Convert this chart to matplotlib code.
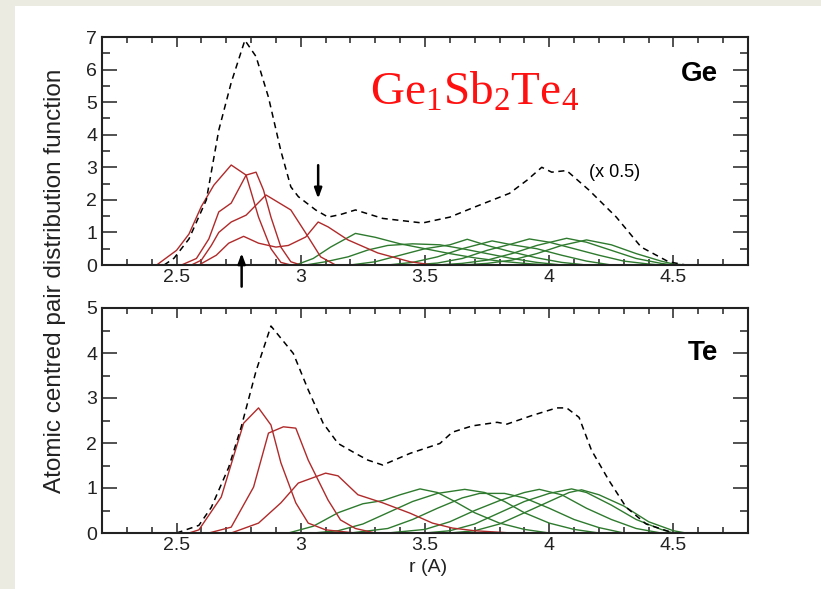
import matplotlib
matplotlib.use("Agg")
import matplotlib.pyplot as plt
from matplotlib.patches import Rectangle
from matplotlib.ticker import MultipleLocator, FixedLocator

plt.rcParams['font.family'] = ['Liberation Sans', 'DejaVu Sans']
plt.rcParams['mathtext.fontset'] = 'custom'
plt.rcParams['mathtext.rm'] = 'Liberation Serif'

# ---------------- Ge panel data ----------------
ge_total_x = [2.45, 2.49, 2.55, 2.62, 2.67, 2.72, 2.775, 2.82, 2.87, 2.92, 2.96, 2.99, 3.06, 3.11, 3.16, 3.22,
              3.33, 3.49, 3.6, 3.7, 3.84, 3.91, 3.97, 4.01, 4.07, 4.16, 4.27, 4.37, 4.48, 4.55]
ge_total_y = [0.0, 0.21, 0.8, 2.0, 4.14, 5.6, 6.9, 6.4, 5.15, 3.5, 2.4, 2.1, 1.69, 1.47, 1.55, 1.69,
              1.43, 1.29, 1.47, 1.78, 2.2, 2.6, 3.0, 2.85, 2.9, 2.3, 1.47, 0.55, 0.1, 0.0]

ge_red1_x = [2.42, 2.5, 2.55, 2.6, 2.65, 2.72, 2.78, 2.83, 2.88, 2.92, 2.96]
ge_red1_y = [0.0, 0.45, 0.95, 1.8, 2.45, 3.07, 2.76, 1.47, 0.5, 0.08, 0.0]
ge_red2_x = [2.52, 2.58, 2.63, 2.67, 2.72, 2.78, 2.82, 2.85, 2.88, 2.92, 2.96, 3.0]
ge_red2_y = [0.0, 0.2, 0.8, 1.63, 1.9, 2.76, 2.85, 2.3, 1.47, 0.55, 0.1, 0.0]
ge_red3_x = [2.56, 2.6, 2.64, 2.67, 2.72, 2.78, 2.82, 2.86, 2.96, 3.02, 3.08, 3.14]
ge_red3_y = [0.0, 0.15, 0.6, 1.0, 1.32, 1.53, 1.84, 2.15, 1.69, 0.98, 0.25, 0.0]
ge_red4_x = [2.59, 2.66, 2.71, 2.77, 2.83, 2.9, 2.95, 3.02, 3.07, 3.11, 3.19, 3.31, 3.44, 3.53]
ge_red4_y = [0.0, 0.3, 0.67, 0.88, 0.67, 0.55, 0.6, 0.86, 1.32, 1.17, 0.77, 0.37, 0.1, 0.0]

ge_grn1_x = [2.98, 3.05, 3.12, 3.22, 3.3, 3.4, 3.5, 3.6, 3.7, 3.8, 3.9, 4.0]
ge_grn1_y = [0.0, 0.2, 0.55, 0.97, 0.85, 0.65, 0.5, 0.35, 0.22, 0.12, 0.05, 0.0]
ge_grn2_x = [3.02, 3.1, 3.19, 3.27, 3.35, 3.45, 3.56, 3.65, 3.75, 3.85, 3.95, 4.05]
ge_grn2_y = [0.0, 0.1, 0.25, 0.46, 0.6, 0.65, 0.62, 0.5, 0.35, 0.2, 0.08, 0.0]
ge_grn3_x = [3.2, 3.3, 3.4, 3.5, 3.6, 3.67, 3.75, 3.85, 3.95, 4.05, 4.15]
ge_grn3_y = [0.0, 0.1, 0.3, 0.5, 0.62, 0.79, 0.6, 0.4, 0.22, 0.08, 0.0]
ge_grn4_x = [3.35, 3.45, 3.55, 3.65, 3.77, 3.85, 3.95, 4.05, 4.15, 4.25]
ge_grn4_y = [0.0, 0.08, 0.25, 0.5, 0.74, 0.62, 0.5, 0.3, 0.12, 0.0]
ge_grn5_x = [3.45, 3.55, 3.65, 3.75, 3.85, 3.92, 4.0, 4.1, 4.2, 4.3, 4.4, 4.45]
ge_grn5_y = [0.0, 0.06, 0.2, 0.45, 0.65, 0.8, 0.7, 0.5, 0.3, 0.12, 0.03, 0.0]
ge_grn6_x = [3.55, 3.65, 3.75, 3.85, 3.95, 4.07, 4.15, 4.25, 4.35, 4.45, 4.5]
ge_grn6_y = [0.0, 0.05, 0.15, 0.35, 0.6, 0.82, 0.7, 0.45, 0.2, 0.05, 0.0]
ge_grn7_x = [3.65, 3.75, 3.85, 3.95, 4.05, 4.15, 4.25, 4.35, 4.45, 4.5, 4.55]
ge_grn7_y = [0.0, 0.05, 0.15, 0.35, 0.6, 0.77, 0.62, 0.35, 0.12, 0.03, 0.0]

# ---------------- Te panel data ----------------
te_total_x = [2.5, 2.59, 2.64, 2.71, 2.76, 2.82, 2.88, 2.97, 3.03, 3.09, 3.15, 3.22, 3.27, 3.33, 3.44,
              3.56, 3.61, 3.69, 3.79, 3.83, 3.93, 4.03, 4.07, 4.12, 4.17, 4.24, 4.31, 4.39, 4.5]
te_total_y = [0.0, 0.17, 0.57, 1.46, 2.35, 3.6, 4.6, 3.99, 3.18, 2.44, 1.99, 1.77, 1.62, 1.51, 1.77,
              1.99, 2.24, 2.38, 2.46, 2.42, 2.61, 2.78, 2.78, 2.57, 1.84, 1.17, 0.57, 0.2, 0.0]

te_red1_x = [2.55, 2.59, 2.68, 2.77, 2.83, 2.88, 2.92, 2.98, 3.03, 3.1, 3.22]
te_red1_y = [0.0, 0.07, 0.8, 2.44, 2.78, 2.4, 1.56, 0.67, 0.22, 0.07, 0.0]
te_red2_x = [2.63, 2.72, 2.81, 2.87, 2.93, 2.98, 3.03, 3.11, 3.16, 3.22, 3.3]
te_red2_y = [0.0, 0.13, 1.02, 2.22, 2.36, 2.33, 1.62, 0.73, 0.29, 0.1, 0.0]
te_red3_x = [2.72, 2.83, 2.92, 2.99, 3.1, 3.15, 3.23, 3.33, 3.44, 3.53, 3.61, 3.7, 3.85]
te_red3_y = [0.0, 0.22, 0.67, 1.11, 1.33, 1.27, 0.85, 0.67, 0.44, 0.22, 0.11, 0.05, 0.0]

te_grn1_x = [2.95, 3.05, 3.15, 3.25, 3.33, 3.4, 3.48, 3.55, 3.62, 3.7, 3.8, 3.9, 4.0]
te_grn1_y = [0.0, 0.15, 0.45, 0.65, 0.72, 0.85, 0.98, 0.9, 0.7, 0.45, 0.22, 0.08, 0.0]
te_grn2_x = [3.05, 3.15, 3.25, 3.35, 3.45, 3.55, 3.66, 3.74, 3.82, 3.9, 4.0, 4.1, 4.2]
te_grn2_y = [0.0, 0.05, 0.2, 0.45, 0.7, 0.88, 0.97, 0.9, 0.7, 0.45, 0.22, 0.08, 0.0]
te_grn3_x = [3.2, 3.35, 3.45, 3.55, 3.65, 3.72, 3.82, 3.9, 4.0, 4.1, 4.2, 4.3]
te_grn3_y = [0.0, 0.1, 0.3, 0.55, 0.78, 0.88, 0.88, 0.78, 0.55, 0.3, 0.12, 0.0]
te_grn4_x = [3.35, 3.5, 3.6, 3.7, 3.8, 3.9, 3.96, 4.05, 4.15, 4.25, 4.35, 4.45]
te_grn4_y = [0.0, 0.08, 0.25, 0.5, 0.72, 0.9, 0.97, 0.85, 0.55, 0.3, 0.1, 0.0]
te_grn5_x = [3.5, 3.6, 3.7, 3.8, 3.9, 4.0, 4.09, 4.15, 4.25, 4.35, 4.45, 4.5]
te_grn5_y = [0.0, 0.05, 0.2, 0.45, 0.7, 0.88, 0.98, 0.9, 0.62, 0.3, 0.08, 0.0]
te_grn6_x = [3.6, 3.7, 3.8, 3.9, 4.0, 4.08, 4.13, 4.2, 4.3, 4.4, 4.5, 4.55]
te_grn6_y = [0.0, 0.05, 0.2, 0.45, 0.7, 0.9, 0.96, 0.85, 0.6, 0.25, 0.05, 0.0]

x_ticks = [2.5, 3.0, 3.5, 4.0, 4.5]
x_tick_labels = ["2.5", "3", "3.5", "4", "4.5"]

RED = '#b02a2a'
GRN = '#2e7a2e'
BG = '#ebebe1'

fig = plt.figure(figsize=(8.21, 5.89), dpi=100)
fig.patch.set_facecolor(BG)
fig.add_artist(Rectangle((15 / 821, 0), 1 - 15 / 821, 1 - 6 / 589, transform=fig.transFigure,
                         facecolor='white', edgecolor='none', zorder=-10))

ax1 = fig.add_axes([102 / 821, 1 - 265 / 589, 646 / 821, 228 / 589])
ax2 = fig.add_axes([102 / 821, 1 - 533 / 589, 646 / 821, 225 / 589])

def style(ax, ymax):
    ax.set_xlim(2.2, 4.8)
    ax.set_ylim(0, ymax)
    ax.xaxis.set_major_locator(FixedLocator(x_ticks))
    ax.set_xticklabels(x_tick_labels)
    ax.xaxis.set_minor_locator(MultipleLocator(0.1))
    ax.yaxis.set_major_locator(MultipleLocator(1))
    ax.yaxis.set_minor_locator(MultipleLocator(0.5))
    ax.tick_params(which='both', direction='in', top=True, right=True, labelsize=14, colors='#222222', width=1.1)
    ax.tick_params(axis='x', which='major', length=7)
    ax.tick_params(axis='x', which='minor', length=4)
    ax.tick_params(axis='y', which='major', length=11)
    ax.tick_params(axis='y', which='minor', length=6)
    ax.tick_params(axis='x', pad=3)
    for s in ax.spines.values():
        s.set_linewidth(1.5)
        s.set_color('#222222')
    ax.set_facecolor('white')

style(ax1, 7)
style(ax2, 5)

lw = 1.0
for xs, ys in [(ge_grn1_x, ge_grn1_y), (ge_grn2_x, ge_grn2_y), (ge_grn3_x, ge_grn3_y), (ge_grn4_x, ge_grn4_y),
               (ge_grn5_x, ge_grn5_y), (ge_grn6_x, ge_grn6_y), (ge_grn7_x, ge_grn7_y)]:
    ax1.plot(xs, ys, color=GRN, lw=lw)
for xs, ys in [(ge_red1_x, ge_red1_y), (ge_red2_x, ge_red2_y), (ge_red3_x, ge_red3_y), (ge_red4_x, ge_red4_y)]:
    ax1.plot(xs, ys, color=RED, lw=lw)
ax1.plot(ge_total_x, ge_total_y, color='black', lw=1.1, dashes=(4, 3))

for xs, ys in [(te_grn1_x, te_grn1_y), (te_grn2_x, te_grn2_y), (te_grn3_x, te_grn3_y), (te_grn4_x, te_grn4_y),
               (te_grn5_x, te_grn5_y), (te_grn6_x, te_grn6_y)]:
    ax2.plot(xs, ys, color=GRN, lw=lw)
for xs, ys in [(te_red1_x, te_red1_y), (te_red2_x, te_red2_y), (te_red3_x, te_red3_y)]:
    ax2.plot(xs, ys, color=RED, lw=lw)
ax2.plot(te_total_x, te_total_y, color='black', lw=1.1, dashes=(4, 3))

ax1.text(4.68, 5.85, "Ge", fontsize=20, fontweight='bold', ha='right', va='center')
ax2.text(4.68, 4.0, "Te", fontsize=20, fontweight='bold', ha='right', va='center')
ax1.text(4.16, 2.85, "(x 0.5)", fontsize=13, ha='left', va='center')
ax1.text(3.70, 5.3, r'$\mathrm{Ge_1Sb_2Te_4}$', fontsize=34, color='#ff1010', ha='center', va='center')

ax1.annotate("", xy=(3.07, 1.95), xytext=(3.07, 3.15),
             arrowprops=dict(arrowstyle='-|>,head_length=0.6,head_width=0.22', color='black', lw=1.8))
ax1.annotate("", xy=(2.762, 0.45), xytext=(2.762, -0.75), annotation_clip=False,
             arrowprops=dict(arrowstyle='-|>,head_length=0.6,head_width=0.22', color='black', lw=1.8))

fig.text(55 / 821, 1 - 281 / 589, "Atomic centred pair distribution function", rotation=90,
         fontsize=17.5, ha='center', va='center', color='#222222')
fig.text(428 / 821, 1 - 567 / 589, "r (A)", fontsize=14, ha='center', va='center', color='#222222')

fig.savefig("out.png", dpi=100, facecolor=fig.get_facecolor())
